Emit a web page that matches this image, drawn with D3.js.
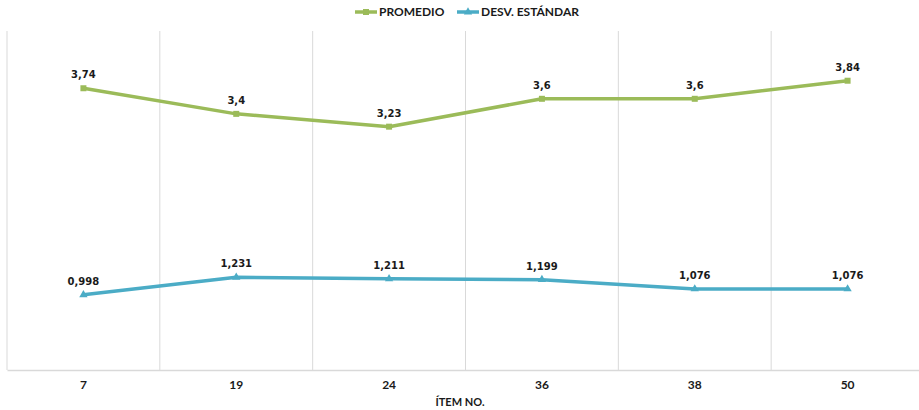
<!DOCTYPE html>
<html>
<head>
<meta charset="utf-8">
<script src="https://cdn.jsdelivr.net/npm/d3@7"></script>
<style>
  html, body { margin: 0; padding: 0; background: #fff; }
  svg { display: block; }
</style>
</head>
<body>
<svg id="chart" width="919" height="410"></svg>
<script>
// Items and per-item statistics
const items = ["7", "19", "24", "36", "38", "50"];
const promedio = [3.74, 3.4, 3.23, 3.6, 3.6, 3.84];
const desvEstandar = [0.998, 1.231, 1.211, 1.199, 1.076, 1.076];
const promedioLabels = ["3,74", "3,4", "3,23", "3,6", "3,6", "3,84"];
const desvLabels = ["0,998", "1,231", "1,211", "1,199", "1,076", "1,076"];
const seriesNames = ["PROMEDIO", "DESV. ESTÁNDAR"];

const W = 919, H = 410;
const plot = { left: 7, right: 924, top: 31, bottom: 370 };
const colors = ["#9BBB59", "#4BACC6"];

const svg = d3.select("#chart");

const x = d3.scaleBand().domain(items).range([plot.left, plot.right]).padding(0);
const y = d3.scaleLinear().domain([0, 4.5]).range([plot.bottom, plot.top]);

// Vertical category separators
const bounds = items.map(d => x(d)).concat([plot.right]);
svg.append("g").selectAll("line").data(bounds).join("line")
  .attr("x1", d => d).attr("x2", d => d)
  .attr("y1", plot.top).attr("y2", plot.bottom)
  .attr("stroke", "#d9d9d9").attr("stroke-width", 1);

// Category axis
const xAxis = svg.append("g")
  .attr("transform", `translate(0,${plot.bottom})`)
  .call(d3.axisBottom(x).tickSize(0).tickPadding(10));
xAxis.select(".domain").attr("stroke", "#d9d9d9").attr("stroke-width", 1.5);
xAxis.selectAll("text")
  .attr("font-family", "Lato, 'Open Sans', sans-serif")
  .attr("font-weight", "bold")
  .attr("font-size", 12)
  .attr("fill", "#1a1a1a");

svg.append("text")
  .attr("x", 460).attr("y", 406)
  .attr("text-anchor", "middle")
  .attr("font-family", "Lato, 'Open Sans', sans-serif")
  .attr("font-weight", "bold")
  .attr("font-size", 11)
  .attr("fill", "#1a1a1a")
  .text("ÍTEM NO.");

const cx = d => x(d) + x.bandwidth() / 2;
const series = [
  { name: seriesNames[0], values: promedio, labels: promedioLabels, color: colors[0], symbol: d3.symbolSquare, size: 36 },
  { name: seriesNames[1], values: desvEstandar, labels: desvLabels, color: colors[1], symbol: d3.symbolTriangle, size: 30 }
];

const line = d3.line().x(d => cx(d.item)).y(d => y(d.v));

series.forEach(s => {
  const pts = items.map((item, i) => ({ item, v: s.values[i], label: s.labels[i] }));
  const g = svg.append("g");
  g.append("path").datum(pts)
    .attr("d", line)
    .attr("fill", "none")
    .attr("stroke", s.color)
    .attr("stroke-width", 3.5)
    .attr("stroke-linejoin", "round");
  g.selectAll("path.m").data(pts).join("path")
    .attr("class", "m")
    .attr("d", d3.symbol().type(s.symbol).size(s.size))
    .attr("transform", d => `translate(${cx(d.item)},${y(d.v)})`)
    .attr("fill", s.color);
  g.selectAll("text").data(pts).join("text")
    .attr("x", d => cx(d.item))
    .attr("y", d => y(d.v) - 10)
    .attr("text-anchor", "middle")
    .attr("font-family", "'DejaVu Sans', Verdana, sans-serif")
    .attr("font-weight", "bold")
    .attr("font-size", 10)
    .attr("fill", "#1a1a1a")
    .text(d => d.label);
});

// Legend
const legendItems = [
  { x: 355, textX: 379 },
  { x: 457, textX: 481 }
];
series.forEach((s, i) => {
  const lg = svg.append("g");
  const lx = legendItems[i].x;
  lg.append("line")
    .attr("x1", lx).attr("x2", lx + 22)
    .attr("y1", 12).attr("y2", 12)
    .attr("stroke", s.color).attr("stroke-width", 3.5);
  lg.append("path")
    .attr("d", d3.symbol().type(s.symbol).size(s.size))
    .attr("transform", `translate(${lx + 11},12)`)
    .attr("fill", s.color);
  lg.append("text")
    .attr("x", legendItems[i].textX).attr("y", 16)
    .attr("font-family", "Lato, 'Open Sans', sans-serif")
    .attr("font-weight", "bold")
    .attr("font-size", 12)
    .attr("fill", "#1a1a1a")
    .text(s.name);
});
</script>
</body>
</html>
